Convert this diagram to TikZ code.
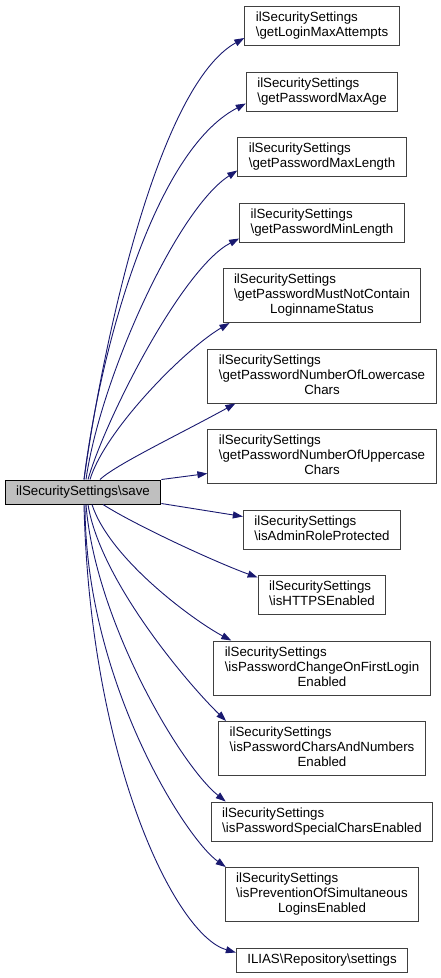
\documentclass[tikz,border=0pt]{standalone}
\usepackage{fontspec}
\setmainfont{Liberation Sans}
\usepackage{xcolor}
\usepackage{tikz}
\usetikzlibrary{arrows.meta,positioning}

\definecolor{edgeblue}{HTML}{191970}
\newcommand{\twoline}[2]{\begin{tabular}{@{}l@{}}#1\\#2\end{tabular}}
\newcommand{\threeline}[3]{\begin{tabular}{@{}l@{}}#1\\#2\\\multicolumn{1}{@{}c@{}}{#3}\end{tabular}}

\begin{document}
\begin{tikzpicture}[x=1pt,y=-1pt,font=\fontsize{13.3}{15}\selectfont,node distance=25.5pt,
   fn/.style={draw=black!75,line width=1pt,fill=white,inner xsep=11pt,inner ysep=4.5pt},
   root/.style={fn,draw=black,fill=black!25},
   call/.style={-{Triangle[length=10pt,width=7pt]},draw=edgeblue,line width=0.9pt}]
  \useasboundingbox (0,0) rectangle (440,978);
  \node[root] (save) at (83,492) {\strut ilSecuritySettings\textbackslash save};
  \node[fn] (n1) at (322,26) {\twoline{ilSecuritySettings}{\textbackslash getLoginMaxAttempts}};
  \node[fn,below=of n1] (n2) {\twoline{ilSecuritySettings}{\textbackslash getPasswordMaxAge}};
  \node[fn,below=of n2] (n3) {\twoline{ilSecuritySettings}{\textbackslash getPasswordMaxLength}};
  \node[fn,below=of n3] (n4) {\twoline{ilSecuritySettings}{\textbackslash getPasswordMinLength}};
  \node[fn,below=of n4] (n5) {\threeline{ilSecuritySettings}{\textbackslash getPasswordMustNotContain}{LoginnameStatus}};
  \node[fn,below=of n5] (n6) {\threeline{ilSecuritySettings}{\textbackslash getPasswordNumberOfLowercase}{Chars}};
  \node[fn,below=of n6] (n7) {\threeline{ilSecuritySettings}{\textbackslash getPasswordNumberOfUppercase}{Chars}};
  \node[fn,below=of n7] (n8) {\twoline{ilSecuritySettings}{\textbackslash isAdminRoleProtected}};
  \node[fn,below=of n8] (n9) {\twoline{ilSecuritySettings}{\textbackslash isHTTPSEnabled}};
  \node[fn,below=of n9] (n10) {\threeline{ilSecuritySettings}{\textbackslash isPasswordChangeOnFirstLogin}{Enabled}};
  \node[fn,below=of n10] (n11) {\threeline{ilSecuritySettings}{\textbackslash isPasswordCharsAndNumbers}{Enabled}};
  \node[fn,below=of n11] (n12) {\twoline{ilSecuritySettings}{\textbackslash isPasswordSpecialCharsEnabled}};
  \node[fn,below=of n12] (n13) {\threeline{ilSecuritySettings}{\textbackslash isPreventionOfSimultaneous}{LoginsEnabled}};
  \node[fn,below=of n13] (n14) {\strut ILIAS\textbackslash Repository\textbackslash settings};
  % calls from save
  \draw[call] ([xshift=1pt]save.north) .. controls (105,330) and (160,85) .. ([yshift=-12pt]n1.west);
  \draw[call] ([xshift=1pt]save.north) .. controls (100,350) and (154,151) .. ([yshift=-12pt]n2.west);
  \draw[call] ([xshift=3pt]save.north) .. controls (100,380) and (176,210) .. ([yshift=-13.5pt]n3.west);
  \draw[call] ([xshift=5pt]save.north) .. controls (105,420) and (182,268) .. ([yshift=-16pt]n4.west);
  \draw[call] ([xshift=7pt]save.north) .. controls (105,430) and (185,349) .. ([xshift=7pt]n5.south west);
  \draw[call] ([xshift=17pt]save.north) .. controls (115,465) and (180,434) .. ([xshift=28pt]n6.south west);
  \draw[call] (save.north east) -- ([yshift=-17pt]n7.west);
  \draw[call] ([yshift=1pt]save.south east) -- ([yshift=13pt]n8.west);
  \draw[call] ([xshift=20pt]save.south) .. controls (135,525) and (215,562) .. ([yshift=17.5pt]n9.west);
  \draw[call] ([xshift=9pt]save.south) .. controls (110,560) and (196,622) .. ([xshift=18pt]n10.north west);
  \draw[call] ([xshift=5pt]save.south) .. controls (100,580) and (187,683) .. ([xshift=8pt]n11.north west);
  \draw[call] ([xshift=3pt]save.south) .. controls (95,620) and (180,765) .. ([xshift=15pt]n12.north west);
  \draw[call] ([xshift=2pt]save.south) .. controls (85,680) and (185,838) .. ([xshift=1pt]n13.north west);
  \draw[call] ([xshift=1pt]save.south) .. controls (90,760) and (175,935) .. ([yshift=7.5pt]n14.west);
\end{tikzpicture}
\end{document}
